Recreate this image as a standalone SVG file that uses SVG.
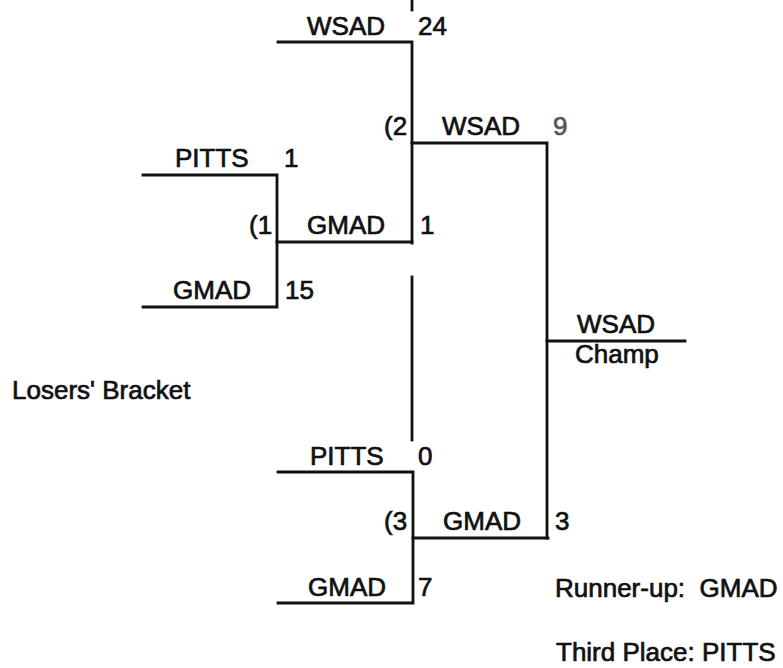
<svg xmlns="http://www.w3.org/2000/svg" width="783" height="668" viewBox="0 0 783 668">
<style>
.t{font-family:"Liberation Sans",Arial,sans-serif;font-size:26px;fill:#111;stroke:#111;stroke-width:0.7}
.g{fill:#555;stroke:#555}
.c line,.c path{stroke:#111;stroke-width:2.8;fill:none;stroke-linecap:square}
</style>
<rect width="783" height="668" fill="#fff"/>
<g id="connectors" class="c">
<line x1="412" y1="0" x2="412" y2="10"/>
<path d="M278 42 H412 V243"/>
<path d="M412 143 H547 V538"/>
<path d="M143 175 H277 V307 H143"/>
<path d="M277 242 H412"/>
<line x1="412" y1="277" x2="412" y2="440"/>
<path d="M278 472 H413 V603 H278"/>
<path d="M413 538 H548"/>
<line x1="547" y1="341" x2="685" y2="341"/>
</g>
<g id="m2-top"><text class="t" x="307" y="35">WSAD</text><text class="t" x="418" y="35">24</text></g>
<g id="m2"><text class="t" x="384" y="135">(2</text><text class="t" x="442" y="135">WSAD</text><text class="t g" x="553" y="135">9</text></g>
<g id="m1-top"><text class="t" x="175" y="167">PITTS</text><text class="t" x="284" y="167">1</text></g>
<g id="m1"><text class="t" x="249" y="234">(1</text><text class="t" x="307" y="234">GMAD</text><text class="t" x="420" y="234">1</text></g>
<g id="m1-bottom"><text class="t" x="173" y="299">GMAD</text><text class="t" x="285" y="299">15</text></g>
<g id="champ"><text class="t" x="577" y="333">WSAD</text><text class="t" x="575" y="363">Champ</text></g>
<g id="losers-label"><text class="t" x="12" y="399">Losers' Bracket</text></g>
<g id="m3-top"><text class="t" x="310" y="465">PITTS</text><text class="t" x="418" y="465">0</text></g>
<g id="m3"><text class="t" x="384" y="530">(3</text><text class="t" x="443" y="530">GMAD</text><text class="t" x="555" y="530">3</text></g>
<g id="m3-bottom"><text class="t" x="308" y="596">GMAD</text><text class="t" x="418" y="596">7</text></g>
<g id="runner-up"><text class="t" x="555" y="597" xml:space="preserve">Runner-up:  GMAD</text></g>
<g id="third-place"><text class="t" x="556" y="661">Third Place: PITTS</text></g>
</svg>
